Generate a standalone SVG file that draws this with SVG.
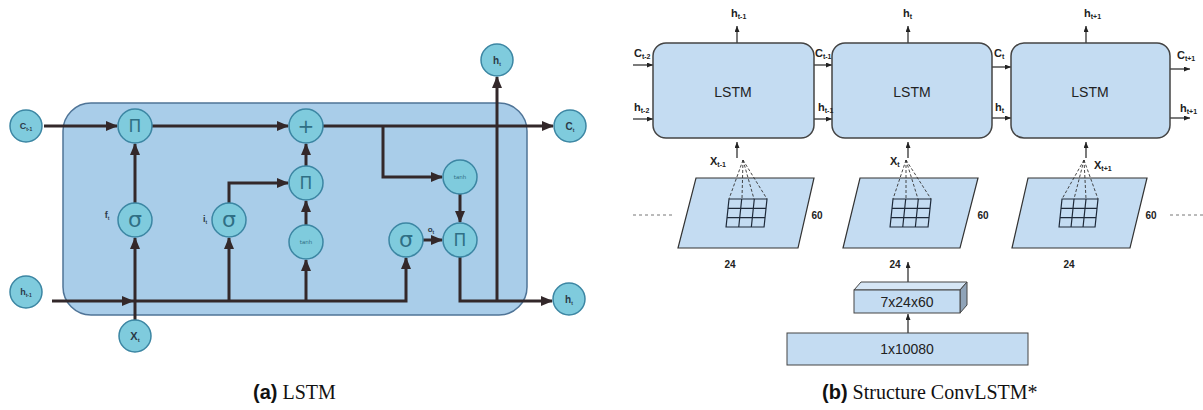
<svg xmlns="http://www.w3.org/2000/svg" width="1203" height="410" viewBox="0 0 1203 410">
<defs>
<marker id="ah" markerUnits="userSpaceOnUse" markerWidth="12" markerHeight="10" refX="11" refY="5" orient="auto">
<path d="M0,0 L12,5 L0,10 z" fill="#33282a"/>
</marker>
<marker id="as" markerUnits="userSpaceOnUse" markerWidth="6" markerHeight="5" refX="6" refY="2.5" orient="auto">
<path d="M0,0 L6,2.5 L0,5 z" fill="#222"/>
</marker>
<style>
.nd{fill:#7fcbdd;stroke:#3c86a3;stroke-width:1.5}
.op{font-family:"DejaVu Sans",sans-serif;fill:#2f6f85;text-anchor:middle}
.lb{font-family:"Liberation Sans",sans-serif;font-weight:bold;fill:#2b3a48;text-anchor:middle}
.c{fill:none;stroke:#33282a;stroke-width:3;marker-end:url(#ah)}
.t{fill:none;stroke:#222;stroke-width:1.2;marker-end:url(#as)}
.rl{font-family:"Liberation Sans",sans-serif;font-weight:bold;fill:#222;font-size:11px}
.box{fill:#c4dcf2;stroke:#444;stroke-width:1.5}
.pg{fill:#c4dcf2;stroke:#333;stroke-width:1.2}
.gr{fill:none;stroke:#1e2a3a;stroke-width:1.2}
.ds{fill:none;stroke:#333;stroke-width:0.9;stroke-dasharray:3,2}
.num{font-family:"Liberation Sans",sans-serif;font-weight:bold;fill:#222;font-size:10px;text-anchor:middle}
</style>
</defs>

<!-- (a) LSTM panel -->
<rect id="cell" x="63" y="103" width="464" height="212" rx="28" fill="#a9cde9" stroke="#4f7497" stroke-width="1.5"/>

<g id="connectors-a">
<path class="c" d="M44,126 H117"/>
<path class="c" d="M152,126 H288"/>
<path class="c" d="M323,126 H553"/>
<path class="c" d="M383,126 V177 H442"/>
<path class="c" d="M460,194 V222"/>
<path class="c" d="M423,240 H442"/>
<path class="c" d="M460,257 V301 H552"/>
<path class="c" d="M497,301 V77"/>
<path class="c" d="M52,301 H133"/>
<path class="c" d="M133,301 H406 V258"/>
<path class="c" d="M229,301 V238"/>
<path class="c" d="M306,301 V260"/>
<path class="c" d="M306,225 V201"/>
<path class="c" d="M306,166 V144"/>
<path class="c" d="M229,203 V183 H288"/>
<path class="c" d="M135,320 V238"/>
<path class="c" d="M135,203 V144"/>
</g>

<g id="c_prev"><circle class="nd" cx="26" cy="126" r="16"/><text class="lb" x="26" y="129" font-size="9">C<tspan font-size="5" dy="1.5">t-1</tspan></text></g>
<g id="h_prev"><circle class="nd" cx="26" cy="292" r="16"/><text class="lb" x="26" y="295" font-size="9">h<tspan font-size="5" dy="1.5">t-1</tspan></text></g>
<g id="x_t"><circle class="nd" cx="135" cy="336" r="16"/><text class="lb" x="135" y="340" font-size="11">X<tspan font-size="6" dy="2">t</tspan></text></g>
<g id="mul_f"><circle class="nd" cx="135" cy="126" r="17"/><text class="op" x="135" y="132" font-size="17">Π</text></g>
<g id="sig_f"><circle class="nd" cx="135" cy="220" r="17"/><text class="op" x="135" y="227" font-size="22">σ</text></g>
<g id="sig_i"><circle class="nd" cx="229" cy="220" r="17"/><text class="op" x="229" y="227" font-size="22">σ</text></g>
<g id="add"><circle class="nd" cx="306" cy="126" r="17"/><text class="op" x="306" y="133" font-size="20">+</text></g>
<g id="mul_i"><circle class="nd" cx="306" cy="183" r="17"/><text class="op" x="306" y="189" font-size="17">Π</text></g>
<g id="tanh_i"><circle class="nd" cx="306" cy="242" r="17"/><text class="op" x="306" y="244" font-size="5.5">tanh</text></g>
<g id="tanh_o"><circle class="nd" cx="460" cy="177" r="17"/><text class="op" x="460" y="179" font-size="5.5">tanh</text></g>
<g id="sig_o"><circle class="nd" cx="406" cy="240" r="17"/><text class="op" x="406" y="247" font-size="22">σ</text></g>
<g id="mul_o"><circle class="nd" cx="460" cy="240" r="17"/><text class="op" x="460" y="246" font-size="17">Π</text></g>
<g id="c_t"><circle class="nd" cx="570" cy="126" r="16"/><text class="lb" x="570" y="130" font-size="10">C<tspan font-size="5" dy="1.5">t</tspan></text></g>
<g id="h_t_top"><circle class="nd" cx="497" cy="60" r="16"/><text class="lb" x="497" y="64" font-size="10">h<tspan font-size="5" dy="1.5">t</tspan></text></g>
<g id="h_t"><circle class="nd" cx="569" cy="299" r="16"/><text class="lb" x="569" y="303" font-size="10">h<tspan font-size="5" dy="1.5">t</tspan></text></g>
<g id="gate-labels">
<text class="lb" x="107" y="218" font-size="9">f<tspan font-size="5" dy="1.5">t</tspan></text>
<text class="lb" x="205" y="222" font-size="9">i<tspan font-size="5" dy="1.5">t</tspan></text>
<text class="lb" x="431" y="232" font-size="8">o<tspan font-size="5" dy="1.5">t</tspan></text>
</g>

<!-- (b) ConvLSTM panel -->
<g id="connectors-b">
<path class="t" d="M737,43 V26"/>
<path class="t" d="M908,43 V26"/>
<path class="t" d="M1086,43 V26"/>
<path class="t" d="M633,65 H653"/>
<path class="t" d="M633,119 H653"/>
<path class="t" d="M814,65 H832"/>
<path class="t" d="M814,119 H832"/>
<path class="t" d="M992,67 H1011"/>
<path class="t" d="M992,118 H1011"/>
<path class="t" d="M1170,69 H1190"/>
<path class="t" d="M1170,118 H1190"/>
<path class="t" d="M737,158 V142"/>
<path class="t" d="M908,158 V142"/>
<path class="t" d="M1086,158 V142"/>
<path class="t" d="M908,282 V262"/>
<path class="t" d="M908,333 V314"/>
<path fill="none" stroke="#777" stroke-width="1" stroke-dasharray="3,3" d="M633,215 H675 M1170,215 H1203"/>
</g>

<g id="lstm1"><rect class="box" x="653" y="43" width="161" height="95" rx="13"/><text x="733" y="97" font-family="Liberation Sans,sans-serif" font-size="14" fill="#222" text-anchor="middle">LSTM</text></g>
<g id="lstm2"><rect class="box" x="832" y="43" width="160" height="95" rx="13"/><text x="912" y="97" font-family="Liberation Sans,sans-serif" font-size="14" fill="#222" text-anchor="middle">LSTM</text></g>
<g id="lstm3"><rect class="box" x="1011" y="43" width="159" height="95" rx="13"/><text x="1090" y="97" font-family="Liberation Sans,sans-serif" font-size="14" fill="#222" text-anchor="middle">LSTM</text></g>

<g id="labels-b">
<text class="rl" x="731" y="17">h<tspan font-size="7" dy="2">t-1</tspan></text>
<text class="rl" x="903" y="17">h<tspan font-size="7" dy="2">t</tspan></text>
<text class="rl" x="1084" y="17">h<tspan font-size="7" dy="2">t+1</tspan></text>
<text class="rl" x="634" y="57">C<tspan font-size="7" dy="2">t-2</tspan></text>
<text class="rl" x="634" y="111">h<tspan font-size="7" dy="2">t-2</tspan></text>
<text class="rl" x="815" y="57">C<tspan font-size="7" dy="2">t-1</tspan></text>
<text class="rl" x="818" y="111" font-weight="normal">h<tspan font-size="7" dy="2">t-1</tspan></text>
<text class="rl" x="994" y="57">C<tspan font-size="7" dy="2">t</tspan></text>
<text class="rl" x="995" y="111">h<tspan font-size="7" dy="2">t</tspan></text>
<text class="rl" x="1177" y="59">C<tspan font-size="7" dy="2">t+1</tspan></text>
<text class="rl" x="1180" y="112">h<tspan font-size="7" dy="2">t+1</tspan></text>
<text class="rl" x="710" y="165">X<tspan font-size="7" dy="2">t-1</tspan></text>
<text class="rl" x="890" y="165">X<tspan font-size="7" dy="2">t</tspan></text>
<text class="rl" x="1094" y="169">X<tspan font-size="7" dy="2">t+1</tspan></text>
</g>

<g id="frame1">
<polygon class="pg" points="696,178 814,178 798,248 678,248"/>
<g transform="translate(729,199) skewX(-6)"><rect class="gr" width="38" height="28"/><path class="gr" d="M12.7,0 V28 M25.3,0 V28 M0,9.3 H38 M0,18.7 H38"/></g>
<path class="ds" d="M743,160 L729,199 M743,160 L742,199 M743,160 L754,199 M743,160 L767,199"/>
<text class="num" x="817" y="219">60</text>
<text class="num" x="730" y="268">24</text>
</g>
<g id="frame2">
<polygon class="pg" points="860,178 978,178 960,248 843,248"/>
<g transform="translate(893,199) skewX(-6)"><rect class="gr" width="38" height="28"/><path class="gr" d="M12.7,0 V28 M25.3,0 V28 M0,9.3 H38 M0,18.7 H38"/></g>
<path class="ds" d="M906,160 L893,199 M906,160 L906,199 M906,160 L918,199 M906,160 L931,199"/>
<text class="num" x="983" y="219">60</text>
<text class="num" x="895" y="268">24</text>
</g>
<g id="frame3">
<polygon class="pg" points="1028,178 1147,178 1130,248 1012,248"/>
<g transform="translate(1062,199) skewX(-6)"><rect class="gr" width="36" height="28"/><path class="gr" d="M12,0 V28 M24,0 V28 M0,9.3 H36 M0,18.7 H36"/></g>
<path class="ds" d="M1084,160 L1062,199 M1084,160 L1074,199 M1084,160 L1086,199 M1084,160 L1098,199"/>
<text class="num" x="1151" y="219">60</text>
<text class="num" x="1069" y="268">24</text>
</g>

<g id="tensor">
<polygon points="854,290 861,282 967,282 960,290" fill="#d6e6f5" stroke="#444" stroke-width="1"/>
<polygon points="960,290 967,282 967,305 960,313" fill="#8fa3b8" stroke="#444" stroke-width="1"/>
<rect x="854" y="290" width="106" height="23" fill="#c4dcf2" stroke="#444" stroke-width="1"/>
<text x="907" y="307" font-family="Liberation Sans,sans-serif" font-size="14" fill="#222" text-anchor="middle">7x24x60</text>
</g>
<g id="input">
<rect x="787" y="333" width="241" height="32" fill="#c4dcf2" stroke="#444" stroke-width="1"/>
<text x="907" y="354" font-family="Liberation Sans,sans-serif" font-size="14" fill="#222" text-anchor="middle">1x10080</text>
</g>

<g id="captions">
<text x="253" y="399" font-size="20" fill="#111"><tspan font-family="Liberation Sans,sans-serif" font-weight="bold">(a)</tspan><tspan font-family="Liberation Serif,serif"> LSTM</tspan></text>
<text x="822" y="399" font-size="20" fill="#111"><tspan font-family="Liberation Sans,sans-serif" font-weight="bold">(b)</tspan><tspan font-family="Liberation Serif,serif"> Structure ConvLSTM*</tspan></text>
</g>
</svg>
